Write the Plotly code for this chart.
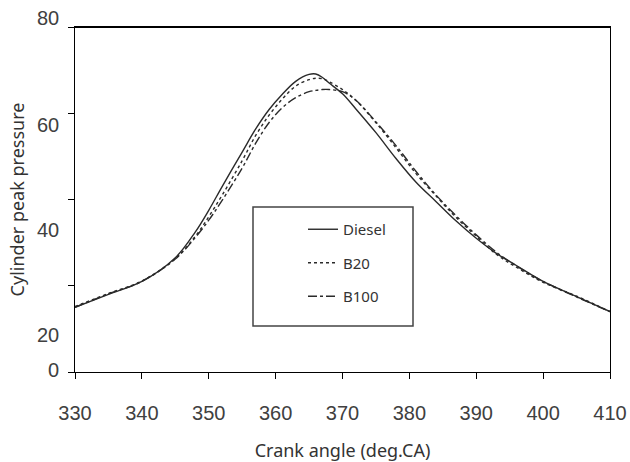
import plotly.graph_objects as go

crank_angle = [330, 335, 340, 345, 348, 350, 352, 355, 357, 359, 361, 363, 365, 366, 367,
               368, 370, 372, 375, 378, 381, 384, 387, 390, 393, 396, 400, 405, 410]
diesel = [15.0, 18.0, 21.0, 26.5, 32.5, 37.5, 43.0, 51.0, 56.3, 60.8, 64.4, 67.4, 69.0, 69.1, 68.3,
          67.0, 64.5, 61.0, 55.5, 49.5, 44.0, 39.5, 35.0, 31.0, 27.5, 24.7, 21.0, 17.5, 14.0]
b20 = [15.2, 18.2, 21.1, 26.3, 31.5, 36.0, 41.0, 49.0, 54.8, 59.5, 63.3, 66.3, 67.8, 68.1, 68.0,
       67.3, 65.5, 63.0, 57.8, 52.0, 46.0, 40.8, 35.8, 31.5, 27.3, 24.3, 20.8, 17.6, 14.0]
b100 = [15.0, 18.1, 21.0, 26.2, 31.2, 35.2, 39.8, 47.3, 53.0, 57.8, 61.3, 63.6, 65.0, 65.3, 65.5,
        65.5, 65.0, 63.0, 58.0, 52.5, 46.5, 41.0, 36.2, 31.8, 27.8, 24.6, 21.0, 17.4, 14.0]

x_ticks = [330, 340, 350, 360, 370, 380, 390, 400, 410]
y_ticks = [0, 20, 40, 60, 80]
y_tick_labels = ["0", "20", "40", "60", "80"]
# where the (offset) y tick labels sit in the original picture, in axis units
y_label_pos = [0.5, 8.6, 32.9, 57.3, 82.1]

Y_MAX = 80
line_col = "#2a2a2a"
fig = go.Figure()
series = [("Diesel", diesel, "solid"), ("B20", b20, "dot"), ("B100", b100, "dashdot")]
for i, (name, vals, dash) in enumerate(series):
    fig.add_trace(go.Scatter(x=crank_angle, y=vals, name=name, mode="lines",
                             line=dict(color=line_col, width=1.4, dash=dash, shape="spline"),
                             legendgroup=f"g{i}"))

font_fam = "Liberation Sans, Arial, sans-serif"
title_fam = "Noto Sans, Open Sans, sans-serif"

L, R, T, B = 75, 20, 27, 90
PW, PH = 630 - L - R, 462 - T - B

fig.update_layout(
    width=630, height=462,
    margin=dict(l=L, r=R, t=T, b=B, autoexpand=False),
    paper_bgcolor="white", plot_bgcolor="white",
    showlegend=True,
    legend=dict(x=(303 - L) / PW, y=(462 - B - 213) / PH, xanchor="left", yanchor="top",
                bgcolor="rgba(0,0,0,0)", borderwidth=0,
                font=dict(family=title_fam, size=15, color="#333333"),
                traceorder="grouped", tracegroupgap=11),
    xaxis=dict(range=[330, 410], tickvals=x_ticks, ticks="outside", ticklen=6,
               tickcolor="black", linecolor="black", linewidth=1, mirror=True,
               showgrid=False, zeroline=False, automargin=False,
               tickfont=dict(family=font_fam, size=20, color="#404040"),
               ticklabelstandoff=17,
               title=dict(text="Crank angle (deg.CA)", standoff=21,
                          font=dict(family=title_fam, size=18, color="#333333"))),
    yaxis=dict(range=[0, Y_MAX], tickvals=y_ticks, ticks="outside", ticklen=6,
               tickcolor="black", linecolor="black", linewidth=1, mirror=True,
               showgrid=False, zeroline=False, showticklabels=False, automargin=False,
               title=dict(text="Cylinder peak pressure", standoff=38,
                          font=dict(family=title_fam, size=18, color="#333333"))),
)

for lab, pos in zip(y_tick_labels, y_label_pos):
    fig.add_annotation(x=0, xref="paper", y=pos / Y_MAX, yref="paper", text=lab, showarrow=False,
                       xanchor="right", yanchor="middle", xshift=-14,
                       font=dict(family=font_fam, size=20, color="#404040"))

# heavier top frame line and the legend box
fig.add_shape(type="line", xref="paper", yref="paper", x0=0, x1=1, y0=1, y1=1,
              line=dict(color="black", width=2))
fig.add_shape(type="rect", xref="paper", yref="paper",
              x0=(253 - L) / PW, x1=(413 - L) / PW,
              y0=(462 - B - 326) / PH, y1=(462 - B - 207) / PH,
              line=dict(color="#444444", width=1.5), fillcolor="rgba(0,0,0,0)")

fig.write_html("out.html")
